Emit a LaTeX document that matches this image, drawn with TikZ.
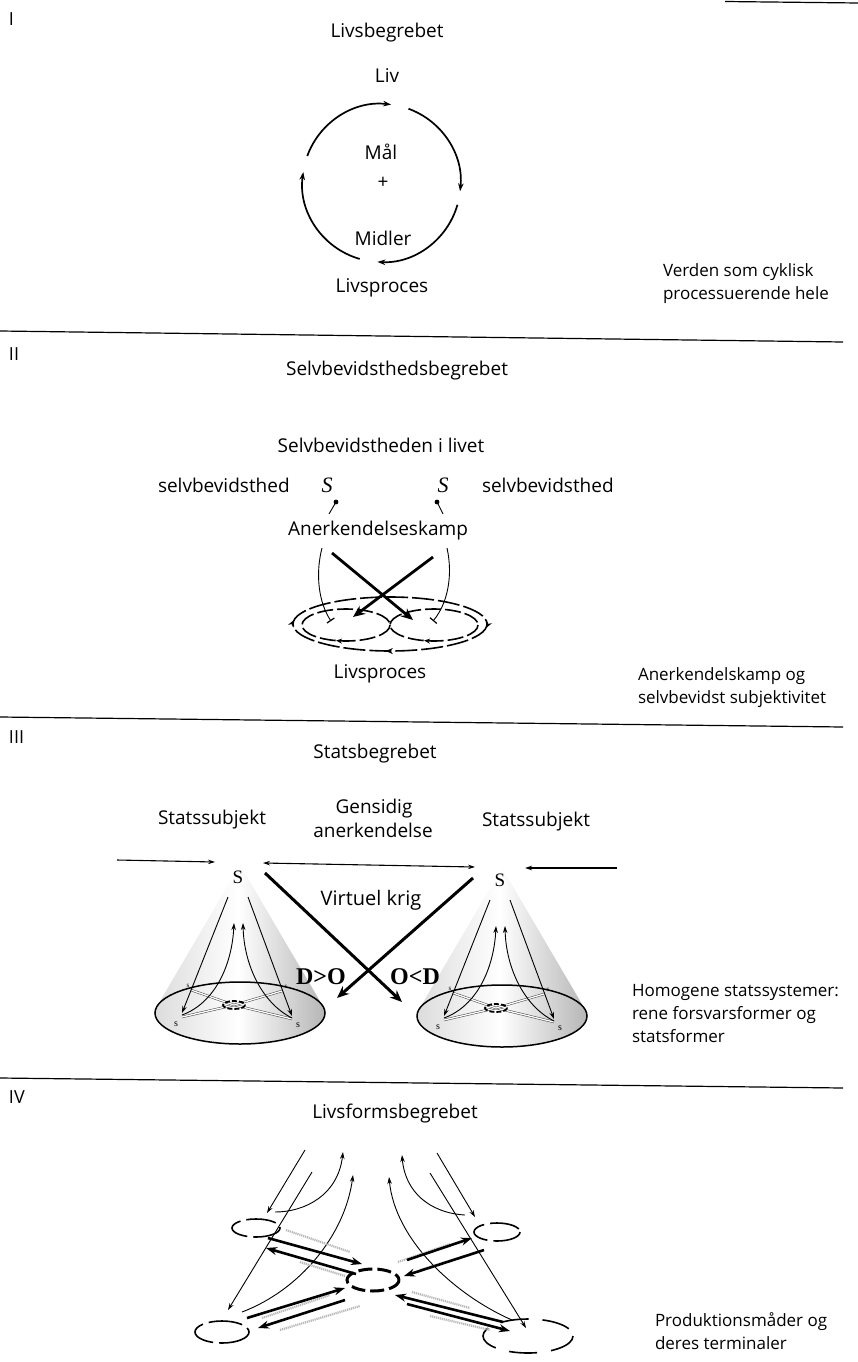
\documentclass[tikz,border=0pt]{standalone}
\usepackage{fontspec}
\setmainfont{Open Sans}
\newfontfamily\serif{Liberation Serif}
\usetikzlibrary{arrows.meta,decorations.markings}
\begin{document}
\begin{tikzpicture}[x=1pt,y=-1pt,
  every node/.style={inner sep=0pt,outer sep=0pt},
  lbl/.style={font=\fontsize{19}{23}\selectfont,text height=14pt,text depth=4pt},
  side/.style={font=\fontsize{17}{21}\selectfont,text height=13pt,text depth=4pt,anchor=west},
  num/.style={font=\fontsize{18}{22}\selectfont,anchor=west},
  rule/.style={line width=1.2pt},
  cyc/.style={line width=1.7pt,-{Stealth[length=8pt,width=5.5pt]}},
  thinarr/.style={line width=0.9pt,-{Stealth[length=7pt,width=4.5pt]}},
  barend/.style={line width=0.9pt,-{Bar[width=9pt,line width=1.2pt]}},
  fatarr/.style={line width=2.8pt,-{Stealth[length=12pt,width=10pt]}},
  pairarr/.style={line width=2.6pt,-{Stealth[length=11pt,width=8pt]}},
  stip/.style={gray!55,line width=2.2pt,dash pattern=on 1.2pt off 0.8pt},
  loopline/.style={line width=1.6pt,dash pattern=on 22pt off 4pt},
  dbl/.style={draw=black!75,double=white,double distance=1.3pt,line width=0.5pt},
  bigS/.style={font=\serif\itshape\fontsize{22}{24}\selectfont},
  capS/.style={font=\serif\fontsize{19}{21}\selectfont},
  ineq/.style={font=\serif\bfseries\fontsize{24}{26}\selectfont},
  cone/.pic={
    \shade[left color=gray!30,right color=gray!60,middle color=white]
      (0,0) -- ([shift={(192.1:85 and 31)}]0,148)
      arc[start angle=192.1,end angle=-12.1,x radius=85,y radius=31] -- cycle;
    \draw[line width=1.5pt] (0,148) ellipse[x radius=85,y radius=31];
    \foreach \p in {(-58,152),(52,154),(-49,125),(42,126)} \draw[dbl] (-6,140) -- \p;
    \draw[line width=1.8pt,dash pattern=on 5pt off 2pt] (-6,140) ellipse[x radius=11,y radius=4];
    \draw[thinarr] (-12,32) -- (-58,148);
    \draw[thinarr] (8,32) -- (52,151);
    \draw[thinarr] (-58,150) .. controls (-25,138) and (-8,100) .. (-6,58);
    \draw[thinarr] (52,153) .. controls (22,138) and (4,100) .. (3,58);
    \node[font=\serif\fontsize{10}{10}\selectfont] at (-64,159) {s};
    \node[font=\serif\fontsize{10}{10}\selectfont] at (58,160) {s};
    \node[font=\serif\fontsize{7}{7}\selectfont] at (-52,121) {s};
    \node[font=\serif\fontsize{7}{7}\selectfont] at (46,122) {s};
  }
]
\useasboundingbox (0,0) rectangle (858,1362);
\fill[white] (0,0) rectangle (858,1362);

% ---------- rules ----------
\coordinate (r0a) at (725,1.5); \coordinate (r0b) at (858,3);
\coordinate (r1a) at (0,331);   \coordinate (r1b) at (843,342);
\coordinate (r2a) at (0,717);   \coordinate (r2b) at (843,727);
\coordinate (r3a) at (0,1078);  \coordinate (r3b) at (843,1088);
\draw[rule] (r0a) -- (r0b);
\draw[rule] (r1a) -- (r1b);
\draw[rule] (r2a) -- (r2b);
\draw[rule] (r3a) -- (r3b);

% ---------- Section I ----------
\node[num] (n1) at (9,19) {I};
\node[lbl] (t1) at (387,33) {Livsbegrebet};
\node[lbl] (liv) at (387,78) {Liv};
\coordinate (c1) at (381.5,183);
\draw[cyc] ([shift={(-160:79)}]c1) arc[start angle=-160,end angle=-83,radius=79];
\draw[cyc] ([shift={(-70:79)}]c1) arc[start angle=-70,end angle=6,radius=79];
\draw[cyc] ([shift={(16:79)}]c1) arc[start angle=16,end angle=93,radius=79];
\draw[cyc] ([shift={(106:79)}]c1) arc[start angle=106,end angle=188,radius=79];
\node[lbl] (mal) at (381,155) {Mål};
\node[lbl] (plus) at (383,183) {+};
\node[lbl] (midler) at (383,240) {Midler};
\node[lbl] (lp1) at (382,287) {Livsproces};
\node[side] (v1) at (663,272) {Verden som cyklisk};
\node[side] (v2) at (663,295) {processuerende hele};

% ---------- Section II ----------
\node[num] (n2) at (9,354) {II};
\node[lbl] (t2) at (397,370) {Selvbevidsthedsbegrebet};
\node[lbl] (sub2) at (381,447) {Selvbevidstheden i livet};
\node[lbl,anchor=west] (sbL) at (158,487) {selvbevidsthed};
\node[bigS] (S1) at (327,485) {S};
\node[bigS] (S2) at (443,485) {S};
\node[lbl,anchor=west] (sbR) at (482,487) {selvbevidsthed};
\coordinate (d1) at (336,502); \coordinate (e1) at (329,514);
\coordinate (d2) at (437,502); \coordinate (e2) at (443,514);
\fill (d1) circle[radius=2.4]; \fill (d2) circle[radius=2.4];
\draw[line width=0.9pt] (d1) -- (e1);
\draw[line width=0.9pt] (d2) -- (e2);
\node[lbl] (ank) at (378,530) {Anerkendelseskamp};
\coordinate (cl1) at (322,548); \coordinate (cl2) at (331,621);
\coordinate (cr1) at (447,548); \coordinate (cr2) at (433,621);
\draw[barend] (cl1) .. controls (315,575) and (319,603) .. (cl2);
\draw[barend] (cr1) .. controls (453,575) and (448,603) .. (cr2);
\coordinate (xa1) at (332,553); \coordinate (xa2) at (413,620);
\coordinate (xb1) at (433,557); \coordinate (xb2) at (353,617);
\coordinate (eo) at (390,624);
\coordinate (el) at (346,625);
\coordinate (er) at (434,625);
\draw[loopline,postaction={decorate},decoration={markings,
   mark=at position 0.01 with {\arrow{Stealth[length=7pt,width=6pt]}},
   mark=at position 0.26 with {\arrow{Stealth[length=7pt,width=6pt]}},
   mark=at position 0.51 with {\arrow{Stealth[length=7pt,width=6pt]}}}]
   (eo) ellipse[x radius=97,y radius=27];
\draw[loopline,dash pattern=on 16pt off 4pt,postaction={decorate},decoration={markings,
   mark=at position 0.3 with {\arrow{Stealth[length=6pt,width=5pt]}}}]
   (el) ellipse[x radius=44,y radius=16];
\draw[loopline,dash pattern=on 16pt off 4pt,postaction={decorate},decoration={markings,
   mark=at position 0.3 with {\arrow{Stealth[length=6pt,width=5pt]}}}]
   (er) ellipse[x radius=44,y radius=16];
\draw[fatarr] (xa1) -- (xa2);
\draw[fatarr] (xb1) -- (xb2);
\node[lbl] (lp2) at (380,673) {Livsproces};
\node[side] (a1) at (638,676) {Anerkendelskamp og};
\node[side] (a2) at (638,699) {selvbevidst subjektivitet};

% ---------- Section III ----------
\node[num] (n3) at (9,737) {III};
\node[lbl] (t3) at (375,753) {Statsbegrebet};
\node[lbl] (ss1) at (212,819) {Statssubjekt};
\node[lbl] (gen1) at (374,808) {Gensidig};
\node[lbl] (gen2) at (373,832) {anerkendelse};
\node[lbl] (ss2) at (536,821) {Statssubjekt};
\pic at (240,865) {cone};
\pic at (502,868) {cone};
\node[capS] (S3) at (238,877) {S};
\node[capS] (S4) at (500,880) {S};
\coordinate (h1s) at (117,860); \coordinate (h1e) at (215,862);
\coordinate (h2s) at (263,863); \coordinate (h2e) at (475,867);
\coordinate (h3s) at (617,868); \coordinate (h3e) at (525,868);
\draw[thinarr,line width=1.1pt] (h1s) -- (h1e);
\draw[thinarr,line width=1.1pt,{Stealth[length=7pt,width=4.5pt]}-{Stealth[length=7pt,width=4.5pt]}] (h2s) -- (h2e);
\draw[thinarr,line width=1.1pt] (h3s) -- (h3e);
\node[lbl,font=\fontsize{20}{24}\selectfont] (vk) at (371,900) {Virtuel krig};
\coordinate (va1) at (265,873); \coordinate (va2) at (402,1002);
\coordinate (vb1) at (473,878); \coordinate (vb2) at (337,998);
\draw[fatarr,line width=3pt] (va1) -- (va2);
\draw[fatarr,line width=3pt] (vb1) -- (vb2);
\node[ineq] (dgo) at (321,977) {D>O};
\node[ineq] (old) at (415,977) {O<D};
\node[side] (h1) at (632,992) {Homogene statssystemer:};
\node[side] (h2) at (632,1015) {rene forsvarsformer og};
\node[side] (h3) at (632,1038) {statsformer};

% ---------- Section IV ----------
\node[num] (n4) at (9,1097) {IV};
\node[lbl] (t4) at (395,1113) {Livsformsbegrebet};
\coordinate (UL) at (256,1228);
\coordinate (CC) at (373,1280);
\coordinate (UR) at (497,1232);
\coordinate (BL) at (222,1332);
\coordinate (BR) at (528,1336);
\draw[line width=1.6pt,dash pattern=on 30pt off 6pt] (UL) ellipse[x radius=24,y radius=9];
\draw[line width=1.6pt,dash pattern=on 30pt off 6pt] (UR) ellipse[x radius=23,y radius=9];
\draw[line width=1.6pt,dash pattern=on 34pt off 6pt] (BL) ellipse[x radius=27,y radius=11];
\draw[line width=1.6pt,dash pattern=on 28pt off 14pt] (BR) ellipse[x radius=45,y radius=17];
\draw[line width=3pt,dash pattern=on 14pt off 5pt] (CC) ellipse[x radius=26,y radius=11];
% thin arrows from above
\coordinate (p1) at (305,1150); \coordinate (q1) at (267,1213);
\coordinate (p2) at (312,1172); \coordinate (q2) at (228,1310);
\coordinate (p3) at (275,1212); \coordinate (q3) at (343,1152);
\coordinate (p4) at (242,1312); \coordinate (q4) at (353,1175);
\coordinate (p5) at (437,1153); \coordinate (q5) at (475,1217);
\coordinate (p6) at (430,1173); \coordinate (q6) at (526,1328);
\coordinate (p7) at (465,1215); \coordinate (q7) at (402,1155);
\coordinate (p8) at (512,1320); \coordinate (q8) at (389,1177);
\draw[thinarr] (p1) -- (q1);
\draw[thinarr] (p2) -- (q2);
\draw[thinarr] (p3) .. controls (305,1212) and (338,1195) .. (q3);
\draw[thinarr] (p4) .. controls (300,1290) and (345,1235) .. (q4);
\draw[thinarr] (p5) -- (q5);
\draw[thinarr] (p6) -- (q6);
\draw[thinarr] (p7) .. controls (430,1213) and (405,1192) .. (q7);
\draw[thinarr] (p8) .. controls (455,1295) and (395,1240) .. (q8);
% thick paired arrows
\draw[stip] (286,1230) -- (350,1252);
\draw[stip] (300,1262) -- (345,1276);
\draw[pairarr] (268,1238) -- (362,1264);
\draw[pairarr] (356,1274) -- (266,1248);
\draw[stip] (398,1262) -- (450,1244);
\draw[stip] (420,1270) -- (478,1252);
\draw[pairarr] (407,1260) -- (472,1238);
\draw[pairarr] (484,1250) -- (404,1276);
\draw[stip] (262,1318) -- (330,1295);
\draw[stip] (280,1330) -- (360,1306);
\draw[pairarr] (247,1318) -- (345,1288);
\draw[pairarr] (345,1300) -- (258,1328);
\draw[stip] (412,1292) -- (470,1308);
\draw[stip] (430,1316) -- (490,1330);
\draw[pairarr] (503,1322) -- (395,1295);
\draw[pairarr] (407,1304) -- (510,1331);
\node[side] (pm1) at (655,1322) {Produktionsmåder og};
\node[side] (pm2) at (655,1345) {deres terminaler};
\end{tikzpicture}
\end{document}
